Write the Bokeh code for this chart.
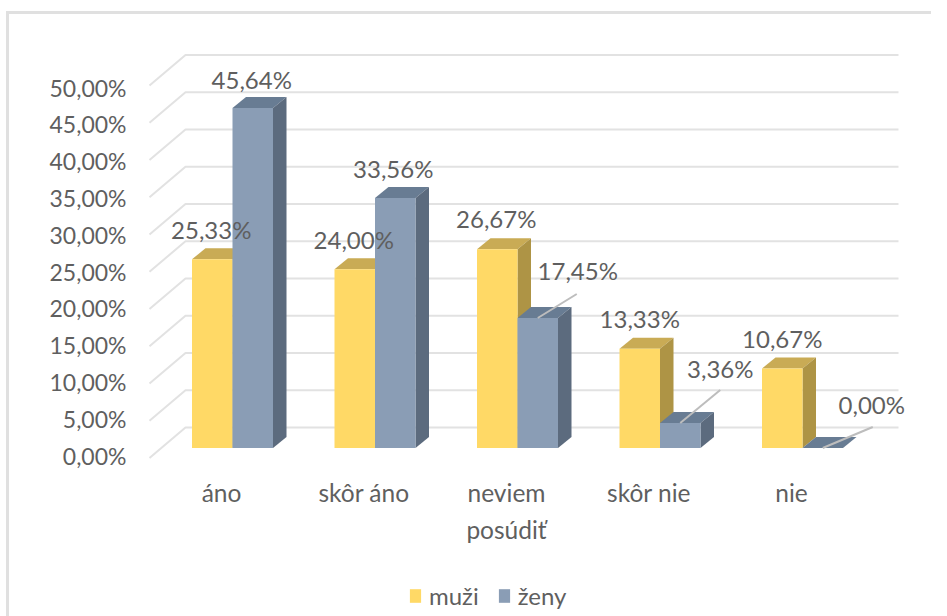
from bokeh.embed import file_html
from bokeh.resources import INLINE
from bokeh.plotting import figure
from bokeh.models import (LinearAxis, Range1d, FixedTicker, Legend, LegendItem,
                          ColumnDataSource)
from bokeh.core.properties import value

categories = ["áno", "skôr áno", "neviem\nposúdiť", "skôr nie", "nie"]
muzi = [25.33, 24.00, 26.67, 13.33, 10.67]
zeny = [45.64, 33.56, 17.45, 3.36, 0.00]
muzi_labels = ["25,33%", "24,00%", "26,67%", "13,33%", "10,67%"]
zeny_labels = ["45,64%", "33,56%", "17,45%", "3,36%", "0,00%"]
y_ticks = [0, 5, 10, 15, 20, 25, 30, 35, 40, 45, 50]
y_tick_labels = {t: f"{t},00%" for t in y_ticks}
series_names = ["muži", "ženy"]

FONT = "Lato"
TXT = "#5f5f5f"
GRID = "#e2e2e2"
FS = "23px"
FS_LAB = "24px"
FS_CAT = "24.5px"
PX_X = 142.5   # px per category
PX_Y = 7.45    # px per percent

W = 931
L = 136          # frame left edge (figure px)
BOT = 616        # frame bottom edge (figure px)
FW, FH = W - L, BOT

def xr(origin):
    return Range1d((L - origin) / PX_X, (W - origin) / PX_X)

BORDER = "linear-gradient(#e0e0e0,#e0e0e0)"
p = figure(x_range=xr(232),
           y_range=Range1d(-(BOT - 447.5) / PX_Y, 447.5 / PX_Y),
           frame_width=FW, frame_height=FH,
           output_backend="svg", toolbar_location=None, tools="",
           min_border_left=L, min_border_right=0, min_border_top=0, min_border_bottom=0,
           x_axis_type=None, y_axis_type=None, background_fill_color=None,
           border_fill_color=None, outline_line_color=None,
           styles={"background": f"{BORDER} 6px 11px / 3px 100% no-repeat, "
                                 f"{BORDER} 6px 11px / 100% 3px no-repeat"})
p.grid.visible = False

# real value axis, on its own shifted scale
p.extra_y_ranges["ax"] = Range1d(-(BOT - 455) / 7.36, 455 / 7.36)
yax = LinearAxis(y_range_name="ax", ticker=FixedTicker(ticks=y_ticks),
                 major_label_overrides=y_tick_labels,
                 axis_line_color=None, major_tick_line_color=None, minor_tick_line_color=None,
                 major_label_text_font=FONT, major_label_text_font_size=FS,
                 major_label_text_color=TXT, major_label_standoff=4)
p.add_layout(yax, "left")

# walls
back_dy = 20.5 / PX_Y
side_dx, side_dy = 36 / PX_X, 30.5 / PX_Y
wall_l, wall_r = (185 - 232) / PX_X, (898 - 232) / PX_X
for t in y_ticks:
    yb = t + back_dy
    p.line([wall_l - side_dx, wall_l, wall_r], [yb - side_dy, yb, yb],
           line_color=GRID, line_width=2)

# 3-D columns
bw = 40.5 / PX_X
dx, dy = 13.5 / PX_X, 11 / PX_Y
xs = list(range(len(categories)))

def column(vals, x0s, front, top, side):
    x1s = [x + bw for x in x0s]
    p.patches([[a, b, b + dx, a + dx] for a, b in zip(x0s, x1s)],
              [[v, v, v + dy, v + dy] for v in vals], fill_color=top, line_color=None)
    p.patches([[b, b + dx, b + dx, b] for b in x1s],
              [[0, dy, v + dy, v] for v in vals], fill_color=side, line_color=None)
    return p.vbar(x=[a + bw / 2 for a in x0s], top=vals, bottom=0, width=bw,
                  fill_color=front, line_color=None)

r1 = column(muzi, [x - bw for x in xs], "#FFD966", "#C9AB55", "#AE9445")
r2 = column(zeny, xs, "#8A9DB5", "#687C93", "#5C6B7E")

# leader lines of the displaced labels (px offsets from the bar top)
lead_ofs = {2: (0, 0, 39, 24), 3: (0, 0, 40, 33), 4: (0, 0, 50, 21)}
for i, (a, b, c, d) in lead_ofs.items():
    x0 = i + bw / 2
    p.line([x0 + a / PX_X, x0 + c / PX_X], [zeny[i] + b / PX_Y, zeny[i] + d / PX_Y],
           line_color="#bdbdbd", line_width=2)

# data labels
lab_x = [x - bw / 2 for x in xs] + [x + bw / 2 for x in xs]
lab_y = muzi + zeny
lab_t = muzi_labels + zeny_labels
x_ofs = [-1, -1, -1, 0, 0, -1, -2, 40, 40, 49]
y_ofs = [-30, -30, -31, -30, -30, -28, -29.5, -47, -54, -44]
p.text(x="x", y="y", text="t", x_offset="xo", y_offset="yo",
       source=ColumnDataSource(dict(x=lab_x, y=lab_y, t=lab_t, xo=x_ofs, yo=y_ofs)),
       text_font=value(FONT), text_font_size=value(FS_LAB), text_color=TXT,
       text_align="center", text_baseline="middle")

# category labels
p.text(x=xs, y=[0] * len(xs), text=categories, x_offset=-11, y_offset=30,
       text_font=value(FONT), text_font_size=value(FS_CAT), text_color=TXT,
       text_align="center", text_baseline="top", text_line_height=1.27)

# legend
leg = Legend(items=[LegendItem(label=series_names[0], renderers=[r1]),
                    LegendItem(label=series_names[1], renderers=[r2])],
             orientation="horizontal", location=(272, 6), border_line_color=None,
             background_fill_alpha=0, glyph_width=14, glyph_height=17,
             label_text_font=FONT, label_text_font_size=FS_LAB, label_text_color=TXT,
             label_standoff=7, spacing=18, padding=0, margin=0)
p.add_layout(leg)

open("out.html", "w").write(file_html(p, INLINE))
